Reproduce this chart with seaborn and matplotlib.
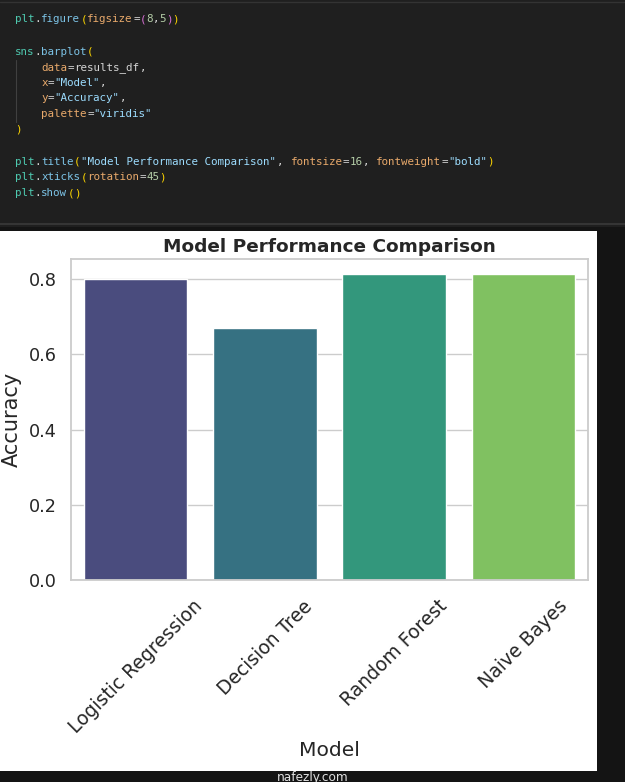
import matplotlib
matplotlib.use("Agg")
import matplotlib.pyplot as plt
import seaborn as sns
import pandas as pd
from matplotlib.patches import Rectangle
from matplotlib.lines import Line2D

# ---- data ----
models = ["Logistic Regression", "Decision Tree", "Random Forest", "Naive Bayes"]
accuracy = [0.800, 0.670, 0.813, 0.813]
title_text = "Model Performance Comparison"
x_label = "Model"
y_label = "Accuracy"

results_df = pd.DataFrame({"Model": models, "Accuracy": accuracy})

sns.set_theme(style="whitegrid")
plt.rcParams['font.family'] = ['DejaVu Sans']

W, H = 625, 782
fig = plt.figure(figsize=(W / 100, H / 100), dpi=100)
fig.patch.set_facecolor("#1f1f1f")

def fx(px):
    return px / W

def fy(py):
    return 1 - py / H

# dark right & bottom strips and white chart area
fig.patches.append(Rectangle((0, 0), 1, 1, transform=fig.transFigure,
                             facecolor="#141414", edgecolor="none", zorder=-10))
fig.patches.append(Rectangle((0, fy(227)), 1, 1 - fy(227) + 0.01, transform=fig.transFigure,
                             facecolor="#1f1f1f", edgecolor="none", zorder=-9))
fig.patches.append(Rectangle((fx(0), fy(771)), fx(597), fy(231) - fy(771),
                             transform=fig.transFigure, facecolor="white",
                             edgecolor="none", zorder=-8))
# separator lines of the editor
fig.add_artist(Line2D([0, 1], [fy(224), fy(224)], transform=fig.transFigure,
                      color="#3a3a3a", lw=1.2))
fig.add_artist(Line2D([0, 1], [fy(2), fy(2)], transform=fig.transFigure,
                      color="#333333", lw=1.0))
# indent guide
fig.add_artist(Line2D([fx(16), fx(16)], [fy(60), fy(122)], transform=fig.transFigure,
                      color="#404040", lw=0.8))

# ---- code block ----
C_MOD = "#4ec9b0"
C_FUN = "#7cc3e6"
C_TXT = "#d4d4d4"
C_KW = "#e8a96b"
C_STR = "#9cdcfe"
C_NUM = "#b5cea8"
C_P1 = "#ffd700"
C_P2 = "#da70d6"

code_lines = [
    (19, [("plt", C_MOD), (".", C_TXT), ("figure", C_FUN), ("(", C_P1), ("figsize", C_KW),
          ("=", C_TXT), ("(", C_P2), ("8", C_NUM), (",", C_TXT), ("5", C_NUM), (")", C_P2), (")", C_P1)]),
    (52, [("sns", C_MOD), (".", C_TXT), ("barplot", C_FUN), ("(", C_P1)]),
    (68, [("    ", C_TXT), ("data", C_KW), ("=", C_TXT), ("results_df", C_TXT), (",", C_TXT)]),
    (83, [("    ", C_TXT), ("x", C_KW), ("=", C_TXT), ('"Model"', C_STR), (",", C_TXT)]),
    (98, [("    ", C_TXT), ("y", C_KW), ("=", C_TXT), ('"Accuracy"', C_STR), (",", C_TXT)]),
    (114, [("    ", C_TXT), ("palette", C_KW), ("=", C_TXT), ('"viridis"', C_STR)]),
    (130, [(")", C_P1)]),
    (162, [("plt", C_MOD), (".", C_TXT), ("title", C_FUN), ("(", C_P1),
           ('"Model Performance Comparison"', C_STR), (", ", C_TXT), ("fontsize", C_KW),
           ("=", C_TXT), ("16", C_NUM), (", ", C_TXT), ("fontweight", C_KW), ("=", C_TXT),
           ('"bold"', C_STR), (")", C_P1)]),
    (177, [("plt", C_MOD), (".", C_TXT), ("xticks", C_FUN), ("(", C_P1), ("rotation", C_KW),
           ("=", C_TXT), ("45", C_NUM), (")", C_P1)]),
    (193, [("plt", C_MOD), (".", C_TXT), ("show", C_FUN), ("(", C_P1), (")", C_P1)]),
]
CHAR_W = 6.56
X0 = 15
for ypx, toks in code_lines:
    col = 0
    for t, c in toks:
        if t.strip():
            fig.text(fx(X0 + col * CHAR_W), fy(ypx), t, color=c, family="DejaVu Sans Mono",
                     fontsize=7.8, va="center", ha="left")
        col += len(t)

# ---- chart ----
ax = fig.add_axes([fx(71), fy(580), fx(588) - fx(71), fy(259) - fy(580)])
sns.barplot(data=results_df, x="Model", y="Accuracy", hue="Model",
            palette="viridis", legend=False, ax=ax)
ax.set_facecolor("white")
for s in ax.spines.values():
    s.set_color("#cccccc")
    s.set_linewidth(1.3)
ax.grid(axis="y", color="#cccccc", linewidth=1.0)
ax.set_yticks([0.0, 0.2, 0.4, 0.6, 0.8])
ax.tick_params(axis="y", labelsize=12.7, colors="#262626", pad=4)
ax.tick_params(axis="x", labelsize=13.5, colors="#262626", pad=6)
plt.setp(ax.get_xticklabels(), rotation=45, ha="center")
ax.set_title(title_text, fontsize=13.3, fontweight="bold", color="#262626", pad=5)
ax.set_xlabel(x_label, fontsize=14.6, color="#262626", labelpad=3)
ax.set_ylabel(y_label, fontsize=15.0, color="#262626", labelpad=5)

# watermark
fig.text(fx(313), fy(777), "nafezly.com", color="#e0e0e0", fontsize=8.7, ha="center",
         va="center", family="DejaVu Sans")

fig.savefig("out.png", dpi=100, facecolor=fig.get_facecolor())
